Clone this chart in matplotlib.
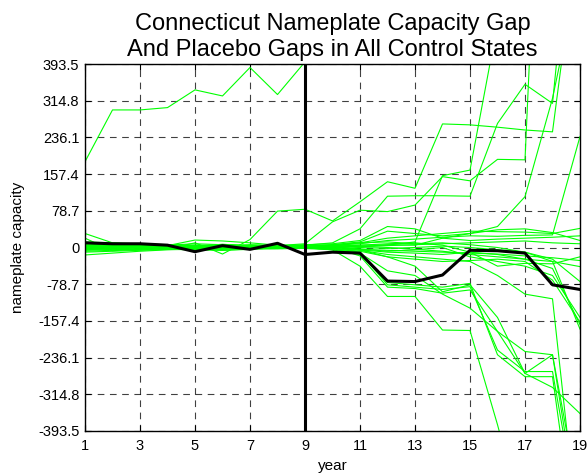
import matplotlib
matplotlib.use("Agg")
import matplotlib.pyplot as plt

plt.rcParams['font.family'] = ['Liberation Sans', 'DejaVu Sans']

years = list(range(1, 20))
treat_year = 9

# Connecticut gap (black line)
ct_gap = [10, 8, 8, 5, -9, 4, -4, 9, -15, -10, -12, -72, -73, -59, -6, -7, -12, -80, -90]

# placebo gaps for the control states (green lines)
placebos = [
    [184, 295, 295, 300, 338, 325, 386, 328, 398, 470, 540, 600, 650, 700, 740, 780, 820, 860, 900],
    [8, 4, 2, -3, 10, -14, 17, 78, 82, 57, 98, 141, 127, 265, 263, 258, 252, 248, 700],
    [-5, -2, 0, 3, 5, 2, 6, 4, 8, 55, 80, 77, 91, 152, 143, 189, 188, 1500, 2500],
    [3, 5, 4, 6, 2, 7, 3, 2, 5, 10, 40, 110, 111, 111, 110, 266, 350, 309, 900],
    [-8, -6, -4, -2, -1, 0, 2, 1, 3, 2, 5, 5, 12, 154, 166, 480, 800, 900, 1000],
    [1, 0, 2, 3, 1, 4, 3, 2, 0, 4, 2, 6, 5, 20, 30, 45, 109, 320, 600],
    [-2, -1, 0, 1, 0, -1, 1, 2, 3, 5, 8, 15, 18, 22, 25, 24, 26, 27, 238],
    [2, 3, 1, 0, -2, 1, 0, -1, 2, 3, 10, 20, 25, 30, 35, 34, 33, 30, 41],
    [30, 10, 6, 4, 16, 14, 10, 5, 2, 6, 12, 35, 30, 25, 30, 38, 40, 32, 15],
    [20, -7, -3, 0, 5, 3, 0, -2, 1, 0, -3, -8, -5, 0, -20, -30, -40, -60, -150],
    [5, 2, 0, -1, -3, -2, -1, 0, 2, 1, -5, -10, -12, -15, -10, -15, -25, -45, -165],
    [0, 1, 3, 2, 0, 1, 2, 3, 4, 2, 0, -2, 0, 3, 0, -5, -10, -30, -175],
    [-16, -12, -8, -5, -3, -6, -4, -2, 0, -3, -8, -20, -25, -30, -28, -25, -30, -70, -160],
    [-3, -1, 0, 1, -2, 0, 1, -1, 0, -5, -40, -105, -105, -177, -178, -380, -600, -700, -800],
    [4, 2, 1, 3, 0, 2, 1, 0, -2, -5, -15, -75, -80, -85, -77, -230, -277, -277, -700],
    [-1, 0, -2, -1, 1, -3, -2, -1, 0, -2, -10, -80, -85, -90, -84, -220, -266, -266, -600],
    [2, 1, 3, 2, -1, 0, -2, 1, 2, 0, -18, -85, -88, -98, -91, -180, -270, -230, -550],
    [6, 4, 5, 3, 2, 1, 4, 2, 1, 3, -5, -20, -40, -95, -80, -150, -270, -300, -356],
    [-6, -4, -5, -3, -2, -4, -1, -3, -1, -4, -12, -50, -60, -100, -130, -180, -223, -230, -600],
    [10, 8, 6, 4, 3, 5, 2, 0, 1, 3, 5, 8, 10, 5, -10, -40, -34, -35, -20],
    [-10, -8, -6, -4, -5, -6, -3, -2, -1, 0, 3, 0, -4, -8, -15, -20, -25, -30, -41],
    [12, 10, 8, 6, 4, 6, 4, 5, 3, 6, 10, 12, 8, 10, 6, 0, -10, -25, -73],
    [3, 4, 6, 5, 8, 6, 5, 4, 6, 8, 15, 45, 40, 20, 15, 18, 20, 22, 25],
    [-4, -3, -1, 0, -5, -2, 0, 2, 0, -2, -4, -6, -8, -10, -12, -14, -18, -22, -28],
    [0, 2, 1, -1, -4, -3, -2, 0, 1, 0, 2, 4, 6, 8, 10, 12, 14, 10, 8],
    [1, 0, -1, 0, 2, 1, 0, 1, -1, -2, -6, -15, -20, -25, -30, -60, -100, -110, -650],
]

ytick_vals = [-393.5, -314.8, -236.1, -157.4, -78.7, 0, 78.7, 157.4, 236.1, 314.8, 393.5]
ytick_labels = ['-393.5', '-314.8', '-236.1', '-157.4', '-78.7', '0',
                '78.7', '157.4', '236.1', '314.8', '393.5']
xtick_vals = [1, 3, 5, 7, 9, 11, 13, 15, 17, 19]

fig = plt.figure(figsize=(5.87, 4.74), dpi=100)
ax = fig.add_axes([85 / 587, 1 - 431 / 474, 495 / 587, 367 / 474])

for p in placebos:
    ax.plot(years, p, color=(0, 1, 0), lw=0.8, zorder=2)
ax.plot(years, ct_gap, color='black', lw=2.2, zorder=3)
ax.axvline(treat_year, color='black', lw=2.2, zorder=4)

ax.set_xlim(1, 19)
ax.set_ylim(-393.5, 393.5)
ax.set_xticks(xtick_vals)
ax.set_yticks(ytick_vals)
ax.set_yticklabels(ytick_labels)
ax.tick_params(direction='in', length=4, width=0.8, top=True, right=True,
               labelsize=10.5, pad=4)
ax.tick_params(axis='x', pad=6)
ax.grid(True, color='black', linestyle=(0, (6, 5)), lw=0.8, alpha=0.75)
for s in ax.spines.values():
    s.set_linewidth(1.0)

ax.set_title('Connecticut Nameplate Capacity Gap\nAnd Placebo Gaps in All Control States',
             fontsize=17, pad=6, linespacing=1.2)
ax.set_xlabel('year', fontsize=11, labelpad=4)
ax.set_ylabel('nameplate capacity', fontsize=11)
ax.yaxis.set_label_coords(-0.122, 0.5)

fig.savefig('out.png', dpi=100)
